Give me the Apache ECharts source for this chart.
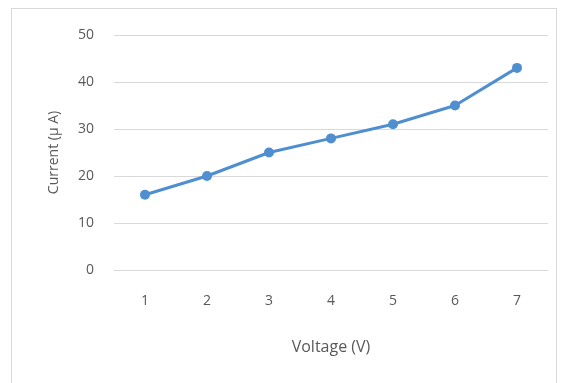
<!DOCTYPE html>
<html>
<head>
<meta charset="utf-8">
<script src="https://cdn.jsdelivr.net/npm/echarts@6/dist/echarts.min.js"></script>
<style>
  html, body { margin: 0; padding: 0; background: #fff; }
  #frame { position: absolute; left: 11px; top: 8px; width: 546px; height: 380px; border: 1px solid #d9d9d9; box-sizing: border-box; }
  #chart { position: absolute; left: 0; top: 0; width: 572px; height: 383px; }
</style>
</head>
<body>
<div id="frame"></div>
<div id="chart"></div>
<script>
const voltage = ['1', '2', '3', '4', '5', '6', '7']
const current = [16, 20, 25, 28, 31, 35, 43]
const yTicks = { min: 0, max: 50, interval: 10 }

const chart = echarts.init(document.getElementById('chart'))

const option = {
  textStyle: { fontFamily: 'Open Sans' },
  grid: {
    left: 114,
    right: 24,
    top: 35,
    bottom: 113
  },
  xAxis: {
    type: 'category',
    data: voltage,
    boundaryGap: true,
    name: 'Voltage (V)',
    nameLocation: 'middle',
    nameGap: 69,
    nameTextStyle: { color: '#595959', fontSize: 16 },
    axisLine: { show: true, lineStyle: { color: '#d9d9d9' } },
    axisTick: { show: false },
    axisLabel: { color: '#595959', fontSize: 14, margin: 24 }
  },
  yAxis: {
    type: 'value',
    min: yTicks.min,
    max: yTicks.max,
    interval: yTicks.interval,
    name: 'Current (µ A)',
    nameLocation: 'middle',
    nameGap: 53,
    nameTextStyle: { color: '#595959', fontSize: 14 },
    axisLine: { show: false },
    axisTick: { show: false },
    axisLabel: { color: '#595959', fontSize: 14, margin: 20 },
    splitLine: { lineStyle: { color: '#d9d9d9', width: 1 } }
  },
  series: [
    {
      name: 'Current',
      type: 'line',
      data: current,
      symbol: 'circle',
      symbolSize: 10,
      lineStyle: { color: '#4f8fd0', width: 3 },
      itemStyle: { color: '#4f8fd0' }
    }
  ]
}

chart.setOption(option)
</script>
</body>
</html>
